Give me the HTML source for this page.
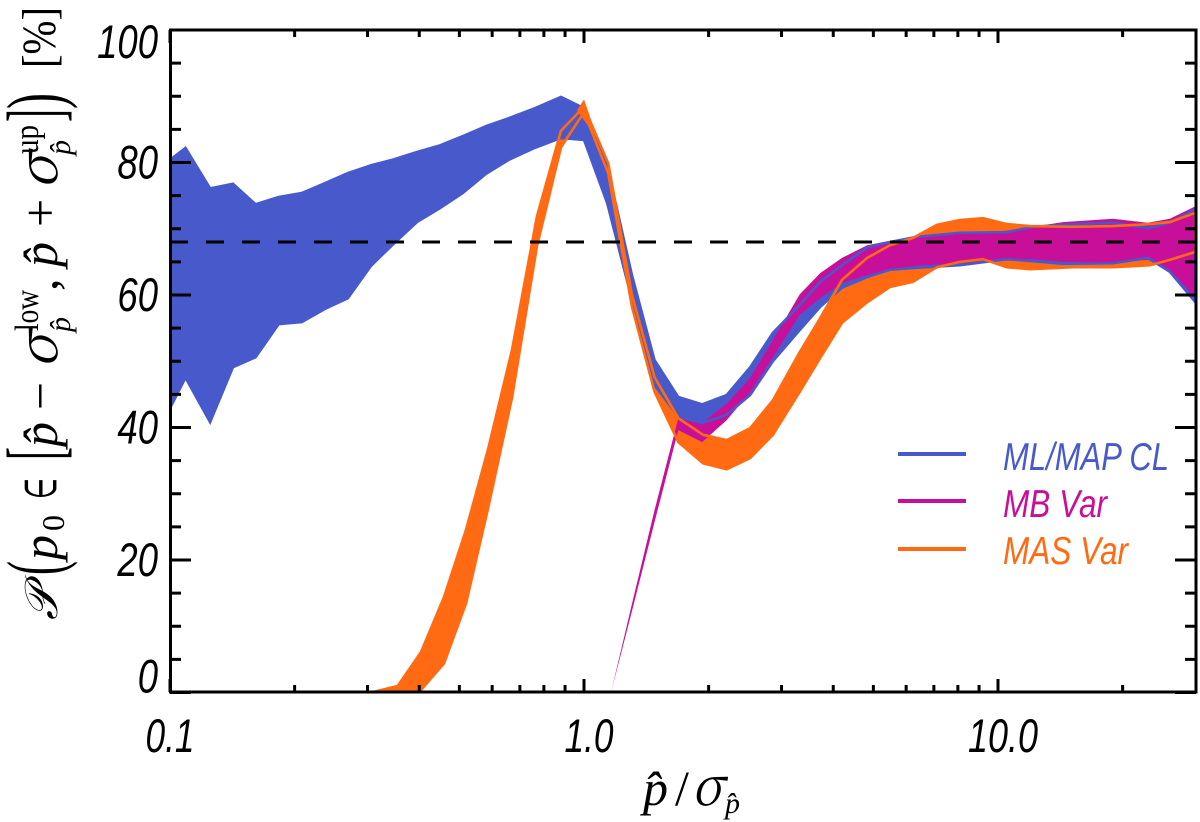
<!DOCTYPE html>
<html lang="en">
<head>
<meta charset="utf-8">
<title>Coverage probability chart</title>
<style>
html,body{margin:0;padding:0;background:#fff;}
svg{display:block;}
.t{font-family:"Liberation Serif","DejaVu Serif",serif;fill:#000;}
.i{font-style:italic;}
.g{font-family:"Noto Serif CJK SC","Liberation Serif",serif;font-style:italic;fill:#000;}
.s{font-family:"Liberation Sans",sans-serif;font-style:italic;}
</style>
</head>
<body>
<svg id="chart" xmlns="http://www.w3.org/2000/svg" width="1200" height="822" viewBox="0 0 1200 822">
  <defs><clipPath id="plot-clip"><rect x="170" y="30" width="1026" height="662"/></clipPath></defs>
  <rect x="0" y="0" width="1200" height="822" fill="#fff"/>
  <g id="series-layer" clip-path="url(#plot-clip)"></g>
  <g id="axis-layer"></g>

  <g transform="translate(57,0) rotate(-90)">
    <text class="t i" x="-620" y="0" font-size="46" textLength="33" lengthAdjust="spacingAndGlyphs" style="font-family:'Liberation Serif','DejaVu Serif','DejaVu Sans',serif">𝒫</text>
    <text class="t" x="-575" y="4" font-size="78" textLength="14" lengthAdjust="spacingAndGlyphs">(</text>
    <text class="t i" x="-560" y="0" font-size="50">p</text>
    <text class="t" x="-531" y="7" font-size="32">0</text>
    <text class="t" x="-499" y="-1" font-size="44" textLength="21" lengthAdjust="spacingAndGlyphs" style="font-family:'DejaVu Sans',sans-serif">∈</text>
    <text class="t" x="-460" y="4" font-size="78" textLength="13" lengthAdjust="spacingAndGlyphs">[</text>
    <text class="t i" x="-447" y="0" font-size="50">p̂</text>
    <text class="t" x="-410" y="0" font-size="50" textLength="28" lengthAdjust="spacingAndGlyphs">−</text>
    <text class="g" x="-368" y="0" font-size="54" textLength="35" lengthAdjust="spacingAndGlyphs">σ</text>
    <text class="t" x="-331" y="-19" font-size="34" textLength="41" lengthAdjust="spacingAndGlyphs">low</text>
    <text class="t i" x="-332" y="13" font-size="30">p̂</text>
    <text class="t" x="-291" y="0" font-size="50">,</text>
    <text class="t i" x="-267" y="0" font-size="50">p̂</text>
    <text class="t" x="-227" y="0" font-size="50">+</text>
    <text class="g" x="-189" y="0" font-size="54" textLength="35" lengthAdjust="spacingAndGlyphs">σ</text>
    <text class="t" x="-154" y="-19" font-size="34" textLength="29" lengthAdjust="spacingAndGlyphs">up</text>
    <text class="t i" x="-155" y="13" font-size="30">p̂</text>
    <text class="t" x="-122" y="4" font-size="78" textLength="13" lengthAdjust="spacingAndGlyphs">]</text>
    <text class="t" x="-109" y="4" font-size="78" textLength="16" lengthAdjust="spacingAndGlyphs">)</text>
    <text class="t" x="-68" y="-2" font-size="48" textLength="61" lengthAdjust="spacingAndGlyphs">[%]</text>
  </g>

  <g>
    <text class="t i" x="643" y="805" font-size="50">p̂</text>
    <text class="t" x="675" y="805" font-size="50">/</text>
    <text class="g" x="692" y="805" font-size="54" textLength="31" lengthAdjust="spacingAndGlyphs">σ</text>
    <text class="t i" x="725" y="813" font-size="30">p̂</text>
  </g>

  <g>
    <line x1="898" x2="966" y1="454" y2="454" stroke="#485ACB" stroke-width="4"/>
    <text class="s" x="1003" y="470" font-size="39" fill="#485ACB" textLength="166" lengthAdjust="spacingAndGlyphs">ML/MAP CL</text>
    <line x1="898" x2="966" y1="501" y2="501" stroke="#C80F9A" stroke-width="4"/>
    <text class="s" x="1003" y="517" font-size="39" fill="#C80F9A" textLength="104" lengthAdjust="spacingAndGlyphs">MB Var</text>
    <line x1="898" x2="966" y1="549" y2="549" stroke="#FF6A13" stroke-width="4"/>
    <text class="s" x="1003" y="564" font-size="39" fill="#FF6A13" textLength="125" lengthAdjust="spacingAndGlyphs">MAS Var</text>
  </g>
</svg>
<script>
const blueX = [0.100,0.109,0.125,0.142,0.161,0.183,0.208,0.237,0.269,0.306,0.348,0.395,0.449,0.510,0.580,0.659,0.761,0.880,1.00,1.137,1.306,1.48,1.69,1.93,2.21,2.52,2.86,3.32,3.72,4.20,4.83,5.48,6.37,8.09,10.5,12.15,14.35,18.96,23.0,26.0,30.0];
const blueUpper = [80.4,82.2,76.1,76.8,73.7,74.8,75.4,76.9,78.4,79.6,80.5,81.6,82.6,84.0,85.5,86.7,88.2,89.9,88.2,79.6,63.0,50.2,44.6,43.5,44.9,49.1,54.3,58.5,62.0,64.5,67.2,68.0,68.8,69.4,69.5,70.3,70.6,70.9,70.1,70.9,73.0];
const blueLower = [42.9,47.5,40.8,49.1,50.6,55.6,55.9,57.9,59.5,64.4,67.8,71.0,73.1,75.4,78.3,80.4,82.2,83.7,83.4,73.9,59.2,46.4,41.6,40.7,41.9,44.9,50.0,54.7,58.2,61.1,62.7,63.8,64.1,64.5,65.4,65.1,64.7,64.8,65.6,63.5,58.9];

const magentaX = [1.162,1.306,1.48,1.69,1.93,2.21,2.52,2.86,3.32,3.72,4.20,4.83,5.48,6.37,8.09,10.5,12.15,14.35,18.96,23.0,26.0,30.0];
const magentaUpper = [0,13.4,27.5,41.4,40.7,43.6,47.5,53.2,60.1,63.3,65.6,67.5,68.2,68.8,69.4,69.7,70.3,71.0,71.5,70.9,71.5,73.4];
const magentaLower = [0,12.3,25.7,39.6,37.8,41.1,45.3,50.6,57.0,59.5,61.8,63.0,63.9,64.4,64.8,65.3,65.4,65.0,64.9,65.3,63.8,59.5];

const orangeX = [0.306,0.355,0.404,0.459,0.519,0.586,0.670,0.770,0.880,1.00,1.144,1.306,1.48,1.69,1.94,2.21,2.52,2.86,3.32,3.72,4.20,4.83,5.48,6.23,7.12,8.09,9.2,10.5,11.95,15.2,18.96,23.3,26.0,30.0];
const orangeUpper = [0,1.0,6.1,14.4,24.6,36.6,51.7,71.9,84.8,88.4,79.9,60.0,47.6,41.4,38.9,38.1,39.9,44.1,51.4,56.5,62.3,65.6,67.5,68.6,70.6,71.3,71.6,70.7,70.4,70.3,70.4,70.7,71.0,72.4];
const orangeLower = [-1,-1,0.4,4.4,13.5,27.7,44.5,67.4,82.3,87.6,78.4,58.2,45.4,37.8,34.6,33.7,35.4,38.9,45.4,50.5,55.8,58.9,61.2,62.0,64.2,65.0,65.4,64.2,63.9,64.2,64.2,64.5,65.3,66.5];
const orangeTipX = [0.962,1.00,1.081];
const orangeTipY = [87.9,89.5,83.4];

const referenceLevel = [68];
const yMajorTicks = [0,20,40,60,80,100];
const yMinorTicks = [5,10,15,25,30,35,45,50,55,65,70,75,85,90,95];
const xMajorTicks = [0.1,1,10];
const xMinorTicks = [0.2,0.3,0.4,0.5,0.6,0.7,0.8,0.9,2,3,4,5,6,7,8,9,20];
const xTickLabels = ["0.1","1.0","10.0"];
const yTickLabels = ["0","20","40","60","80","100"];

const SVG_NS = "http://www.w3.org/2000/svg";
function xScale(v){ return 170 + (Math.log10(v) + 1) * 414; }
function yScale(v){ return 692.5 - v * 6.625; }
function make(tag, attrs, parent){
  const el = document.createElementNS(SVG_NS, tag);
  for (const k in attrs) el.setAttribute(k, attrs[k]);
  parent.appendChild(el);
  return el;
}
function linePts(xs, ys){ return xs.map((x,i)=>xScale(x).toFixed(1)+","+yScale(ys[i]).toFixed(1)); }
function bandPts(xs, up, lo){ return linePts(xs, up).concat(linePts(xs, lo).reverse()).join(" "); }

const series = document.getElementById("series-layer");
const axes = document.getElementById("axis-layer");

const orangeFill = make("polygon", {points: bandPts(orangeX, orangeUpper, orangeLower), fill:"#FF6A13"}, series);


const orangeTip = make("polygon", {points: linePts(orangeTipX, orangeTipY).join(" "), fill:"#FF6A13"}, series);


const blueFill = make("polygon", {points: bandPts(blueX, blueUpper, blueLower), fill:"#485ACB"}, series);


const magentaFill = make("polygon", {points: bandPts(magentaX, magentaUpper, magentaLower), fill:"#C80F9A"}, series);


const blueEdge = make("polygon", {points: bandPts(blueX, blueUpper, blueLower), fill:"none", stroke:"#485ACB", "stroke-width":"2.5"}, series);


const orangeEdge = make("polygon", {points: bandPts(orangeX, orangeUpper, orangeLower), fill:"none", stroke:"#FF6A13", "stroke-width":"2.6"}, series);


const orangeTipTop = make("polygon", {points: linePts(orangeTipX, orangeTipY).join(" "), fill:"#FF6A13"}, series);



const refLine = make("line", {x1:170, x2:1196, y1:yScale(referenceLevel[0]), y2:yScale(referenceLevel[0]), stroke:"#000", "stroke-width":"3", "stroke-dasharray":"18 18"}, axes);



const frame = make("rect", {x:170.5, y:30, width:1025.5, height:662, fill:"none", stroke:"#000", "stroke-width":"3"}, axes);



function tickLine(x1,y1,x2,y2,name){
  const t = make("line", {x1:x1, y1:y1, x2:x2, y2:y2, stroke:"#000", "stroke-width":"3"}, axes);
  
  
}
yMajorTicks.forEach(v=>{
  const y = yScale(v);
  tickLine(170,y,191,y,'y-major-tick');
  tickLine(1175,y,1196,y,'y-major-tick-right');
});
yMinorTicks.forEach(v=>{
  const y = yScale(v);
  tickLine(170,y,181,y,'y-minor-tick');
  tickLine(1185,y,1196,y,'y-minor-tick-right');
});
xMajorTicks.forEach(v=>{
  const x = xScale(v);
  tickLine(x,692,x,679,'x-major-tick');
  tickLine(x,30,x,43,'x-major-tick-top');
});
xMinorTicks.forEach(v=>{
  const x = xScale(v);
  tickLine(x,692,x,685,'x-minor-tick');
  tickLine(x,30,x,37,'x-minor-tick-top');
});

yTickLabels.forEach((s,i)=>{
  const v = yMajorTicks[i];
  const shift = v === 0 ? 0 : (v === 100 ? 28 : 16);
  const t = make("text", {x:158, y:yScale(v)+shift, "text-anchor":"end", "font-size":"47", fill:"#000", "class":"s", textLength:String(s.length*20.3), lengthAdjust:"spacingAndGlyphs"}, axes);
  
  
  t.textContent = s;
});
xTickLabels.forEach((s,i)=>{
  const v = xMajorTicks[i];
  const shift = v > 0.1 ? 5 : 0;
  const w = (s.length-1)*21 + 7;
  const t = make("text", {x:xScale(v)+shift, y:752, "text-anchor":"middle", "font-size":"47", fill:"#000", "class":"s", textLength:String(w), lengthAdjust:"spacingAndGlyphs"}, axes);
  
  
  t.textContent = s;
});
</script>
</body>
</html>
